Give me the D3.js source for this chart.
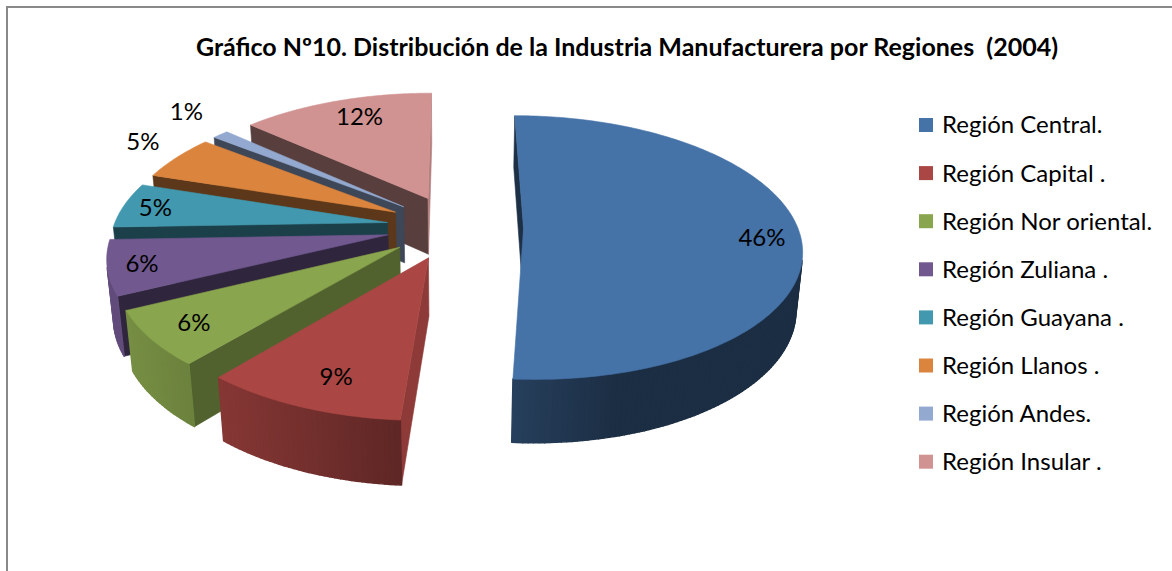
<!DOCTYPE html>
<html>
<head>
<meta charset="utf-8">
<script src="https://d3js.org/d3.v7.min.js"></script>
<style>
body { margin: 0; background: #fff; }
text { font-family: Lato, "Open Sans", sans-serif; fill: #000; }
</style>
</head>
<body>
<svg id="chart" width="1172" height="571"></svg>
<script>
// data (labels are rounded shares)
const regions = ["Región Central.", "Región Capital .", "Región Nor oriental.", "Región Zuliana .",
                 "Región Guayana .", "Región Llanos .", "Región Andes.", "Región Insular ."];
const shares = [46, 9, 6, 6, 5, 5, 1, 12];
const colors = ["#4572A7", "#AA4643", "#89A54E", "#71588F", "#4198AF", "#DB843D", "#93A9CF", "#D19392"];
// where each % label sits: distance from slice tip (1 = rim) and a small turn off the middle, degrees
const labelRadius = [0.86, 0.81, 0.84, 0.88, 0.88, 1.21, 1.28, 0.81];
const labelTurn = [3, -2, 0, 0, 0, 2.6, 2.9, 2.5];

// 3d view of the pie: tilt, perspective distance, explode, thickness
const view = {cx: 455, cy: 227, s: 274, tilt: 28 * Math.PI / 180, dist: 6, explode: 0.25, thick: 0.24};
const deg = Math.PI / 180;

function project(X, Y, Z) {
  const d = view.dist + Y * Math.cos(view.tilt) - Z * Math.sin(view.tilt);
  const f = view.dist / d;
  return [view.cx + view.s * X * f, view.cy - view.s * (Y * Math.sin(view.tilt) + Z * Math.cos(view.tilt)) * f, d];
}
const cam = [0, -view.dist * Math.cos(view.tilt)];
function facing(nx, ny, px, py) { return nx * (cam[0] - px) + ny * (cam[1] - py) > 0; }
function shade(c, k) { const r = d3.rgb(c); return d3.rgb(r.r * k, r.g * k, r.b * k).formatHex(); }

const svg = d3.select("#chart");
svg.append("rect").attr("x", 7).attr("y", 7).attr("width", 1200).attr("height", 600)
  .attr("fill", "#fff").attr("stroke", "#898989").attr("stroke-width", 2);

svg.append("text").attr("x", 627).attr("y", 56).attr("text-anchor", "middle")
  .style("font-weight", "bold").style("font-size", "25px").style("white-space", "pre")
  .text("Gráfico Nº10. Distribución de la Industria Manufacturera por Regiones  (2004)");

const arcs = d3.pie().sort(null).value(d => d)(shares);
const h = view.thick;
const line = d3.line();

const slices = arcs.map((a, i) => {
  const mid = (a.startAngle + a.endAngle) / 2;
  const ox = view.explode * Math.sin(mid), oy = view.explode * Math.cos(mid);
  const pt = (r, t, z) => project(ox + r * Math.sin(t), oy + r * Math.cos(t), z);
  return {i, a, mid, ox, oy, pt, depth: pt(0.6, mid, 0)[2]};
}).sort((p, q) => q.depth - p.depth);

function face(g, pts, fill, sw) {
  g.append("path").attr("d", line(pts.map(p => [p[0], p[1]])) + "Z")
    .attr("fill", fill).attr("stroke", fill).attr("stroke-width", sw || 0.6).attr("stroke-linejoin", "round");
}

slices.forEach(sl => {
  const g = svg.append("g");
  const c = colors[sl.i];
  const t0 = sl.a.startAngle, t1 = sl.a.endAngle;
  const n = Math.max(2, Math.ceil((t1 - t0) / deg));
  const ts = d3.range(n + 1).map(j => t0 + (t1 - t0) * j / n);

  // cut faces
  [[t0, -1], [t1, 1]].forEach(([t, sg]) => {
    const nx = sg * Math.cos(t), ny = -sg * Math.sin(t);
    if (!facing(nx, ny, sl.ox, sl.oy)) return;
    const k = 0.42 + 0.5 * Math.max(0, Math.cos(Math.atan2(nx, ny) - 60 * deg));
    face(g, [sl.pt(0, t, 0), sl.pt(1, t, 0), sl.pt(1, t, -h), sl.pt(0, t, -h)], shade(c, k));
  });

  // outer rim
  for (let j = 0; j < n; j++) {
    const ta = ts[j], tb = ts[j + 1], tm = (ta + tb) / 2;
    const px = sl.ox + Math.sin(tm), py = sl.oy + Math.cos(tm);
    if (!facing(Math.sin(tm), Math.cos(tm), px, py)) continue;
    const k = 0.4 + 0.47 * Math.max(0, Math.cos(tm - 255 * deg));
    face(g, [sl.pt(1, ta, 0), sl.pt(1, tb, 0), sl.pt(1, tb, -h), sl.pt(1, ta, -h)], shade(c, k), 1.4);
  }

  // top
  face(g, [sl.pt(0, 0, 0)].concat(ts.map(t => sl.pt(1, t, 0))), c);
});

// percentage labels
arcs.forEach((a, i) => {
  const t = (a.startAngle + a.endAngle) / 2 + labelTurn[i] * deg;
  const mid = (a.startAngle + a.endAngle) / 2;
  const ox = view.explode * Math.sin(mid), oy = view.explode * Math.cos(mid);
  const r = labelRadius[i];
  const p = project(ox + r * Math.sin(t), oy + r * Math.cos(t), 0);
  svg.append("text").attr("x", p[0]).attr("y", p[1]).attr("dy", "0.35em")
    .attr("text-anchor", "middle").style("font-size", "24px")
    .text(shares[i] + "%");
});

// legend
const legend = svg.append("g");
regions.forEach((r, i) => {
  const y = 125 + i * 48.1;
  legend.append("rect").attr("x", 919).attr("y", y - 7).attr("width", 14).attr("height", 14).attr("fill", colors[i]);
  legend.append("text").attr("x", 942).attr("y", y).attr("dy", "0.35em").style("font-size", "24px").text(r);
});
</script>
</body>
</html>
